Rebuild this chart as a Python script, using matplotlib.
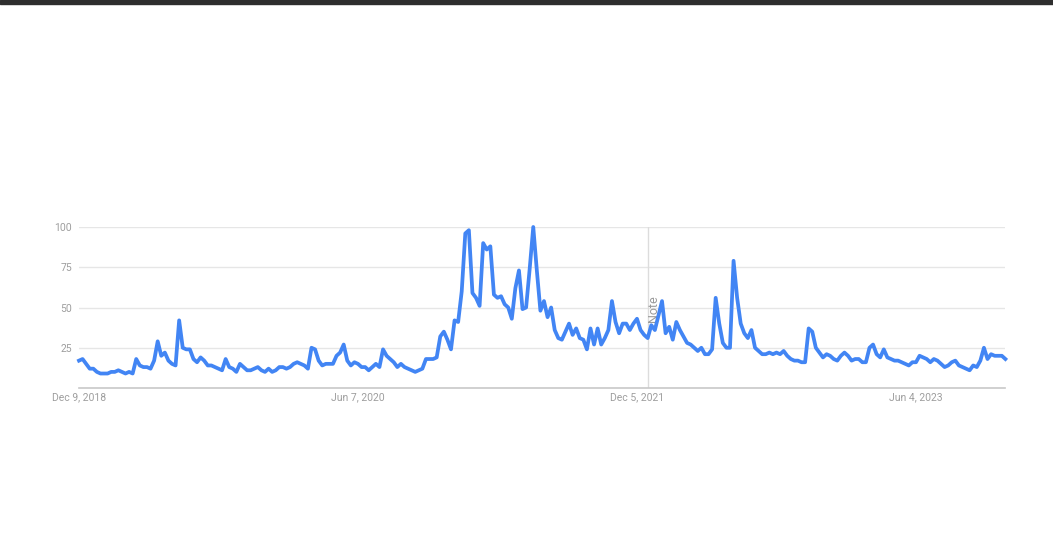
import matplotlib
matplotlib.use("Agg")
import matplotlib.pyplot as plt
from matplotlib.patches import Rectangle
import pandas as pd

# weekly interest over time (0-100 scale)
start_week = '2018-12-09'
interest = [17, 18, 15, 12, 12, 10, 9, 9, 9, 10, 10, 11, 10, 9, 10, 9, 18, 14, 13, 13, 12, 17, 29,
            20, 22, 17, 15, 14, 42, 25, 24, 24, 18, 16, 19, 17, 14, 14, 13, 12, 11, 18, 13, 12, 10, 15, 13,
            11, 11, 12, 13, 11, 10, 12, 10, 11, 13, 13, 12, 13, 15, 16, 15, 14, 12, 25, 24, 17, 14, 15, 15,
            15, 20, 22, 27, 17, 14, 16, 15, 13, 13, 11, 13, 15, 13, 24, 20, 18, 16, 13, 15, 13, 12, 11, 10,
            11, 12, 18, 18, 18, 19, 32, 35, 30, 24, 42, 41, 60, 96, 98, 59, 56, 51, 90, 86, 88, 58, 56,
            57, 52, 50, 43, 62, 73, 49, 50, 74, 100, 73, 48, 54, 44, 50, 36, 31, 30, 35, 40, 33, 37, 31, 30,
            24, 37, 27, 37, 27, 31, 36, 54, 41, 34, 40, 40, 36, 40, 43, 36, 33, 31, 39, 36, 45, 54,
            34, 38, 30, 41, 36, 32, 28, 27, 25, 23, 25, 21, 21, 24, 56, 40, 28, 25, 25,
            79, 56, 40, 34, 31, 36, 25, 23, 21, 21, 22, 21, 22, 21, 23, 20, 18, 17, 17, 16, 16,
            37, 35, 25, 22, 19, 21, 20, 18, 17, 20, 22, 20, 17, 18, 18, 16, 16,
            25, 27, 21, 19, 24, 19, 18, 17, 17, 16, 15, 14, 16, 16, 20, 19, 18, 16, 18, 17,
            15, 13, 14, 16, 17, 14, 13, 12, 11, 14, 13, 17, 25, 18, 21, 20, 20, 20, 18]

tick_dates = ['2018-12-09', '2020-06-07', '2021-12-05', '2023-06-04']
tick_labels = ['Dec 9, 2018', 'Jun 7, 2020', 'Dec 5, 2021', 'Jun 4, 2023']
y_ticks = [25, 50, 75, 100]
note_date = '2021-12-26'

weeks = pd.date_range(start_week, periods=len(interest), freq='7D')

W, H = 1053, 555
fig = plt.figure(figsize=(W / 100, H / 100), dpi=100)
fig.patch.set_facecolor('white')
ax = fig.add_axes([79 / W, (H - 388) / H, 926.4 / W, 161 / H])

# grid, note line, then the series
for v in y_ticks:
    ax.axhline(v, color='#e6e6e6', lw=1, zorder=1)
ax.axvline(pd.Timestamp(note_date), color='#dcdcdc', lw=1, zorder=1)
ax.text(pd.Timestamp(note_date) + pd.Timedelta(days=12), 49, 'Note', rotation=90,
        ha='center', va='center', fontsize=9, color='#9a9a9a', family='Roboto', zorder=2)

ax.plot(weeks, interest, color='#4285f4', lw=2.7, solid_joinstyle='round', zorder=3, clip_on=False)

ax.set_xlim(weeks[0], weeks[-1])
ax.set_ylim(0, 100)
ax.set_yticks(y_ticks)
ax.set_xticks([pd.Timestamp(d) for d in tick_dates])
ax.set_xticklabels(tick_labels)
ax.tick_params(length=0, labelsize=7.5, labelcolor='#9e9e9e')
ax.tick_params(axis='y', pad=5)
ax.tick_params(axis='x', pad=3)
for lab in ax.get_xticklabels() + ax.get_yticklabels():
    lab.set_family('Roboto')

for s in ['top', 'right', 'left']:
    ax.spines[s].set_visible(False)
ax.spines['bottom'].set_color('#c8c8c8')
ax.spines['bottom'].set_linewidth(1.2)

# dark strip along the top edge of the screenshot
fig.patches.append(Rectangle((0, 1 - 4 / H), 1, 4 / H, transform=fig.transFigure,
                             color='#2e2e2e', zorder=10))

fig.savefig('out.png', dpi=100)
